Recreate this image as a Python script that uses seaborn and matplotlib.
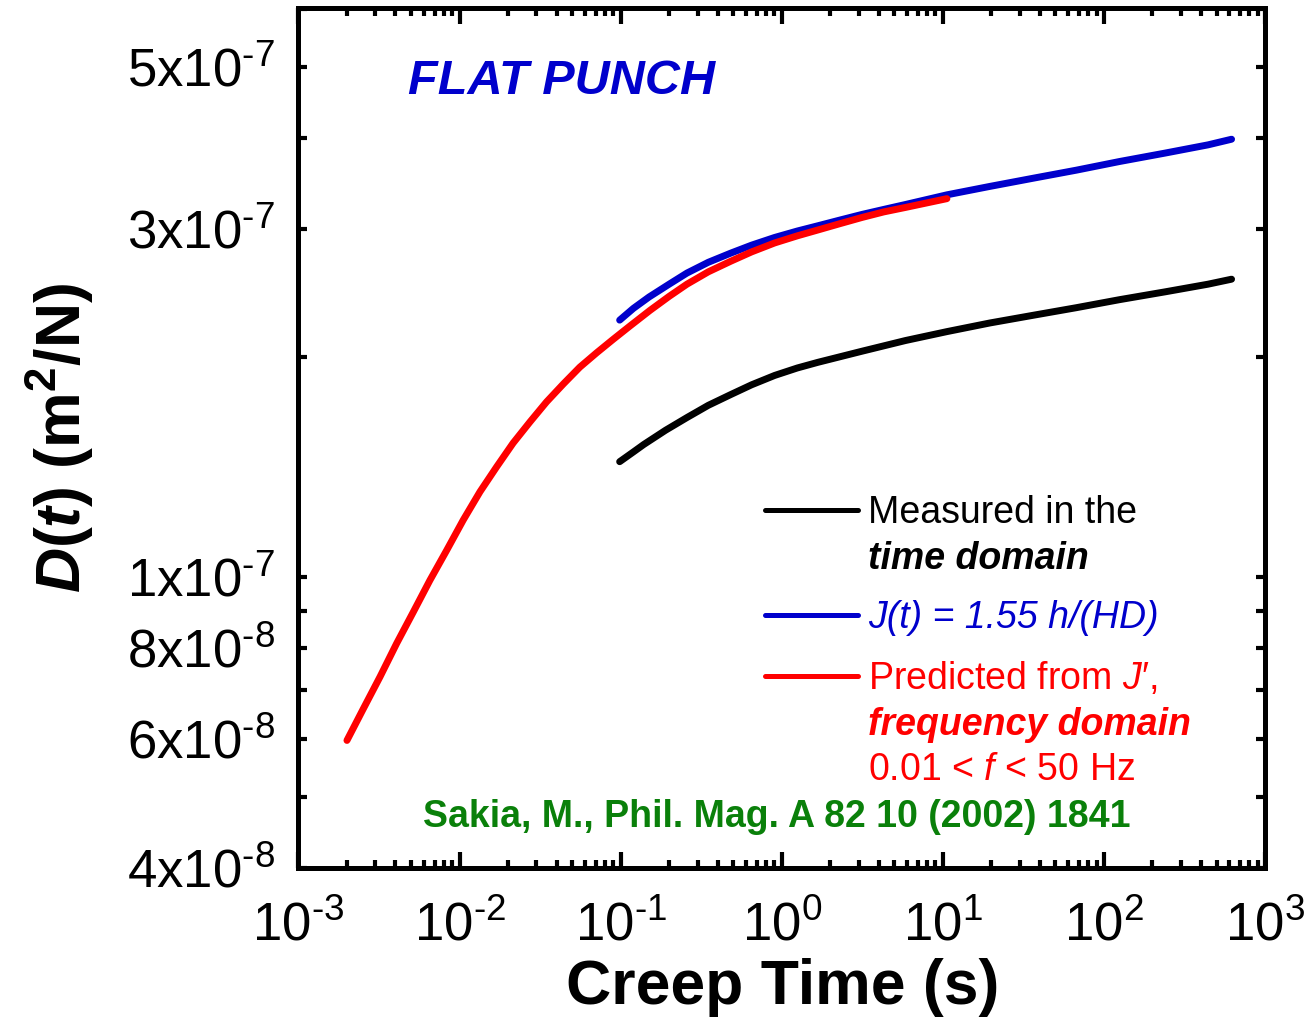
import numpy as np
import pandas as pd
import seaborn as sns
import matplotlib.pyplot as plt
from matplotlib import ticker

# data (creep time in s, D(t) in m^2/N)
t_pred = [0.002, 0.00252, 0.00321, 0.00407, 0.00517, 0.00655, 0.00832, 0.01054, 0.0134,
          0.017, 0.0215, 0.0274, 0.0347, 0.0441, 0.0558, 0.071, 0.0899, 0.114, 0.152,
          0.2, 0.258, 0.35, 0.484, 0.65, 0.904, 1.25, 1.68, 2.3, 3.15, 4.3, 5.87, 10.6]
d_pred = [5.98e-8, 6.60e-8, 7.31e-8, 8.12e-8, 8.97e-8, 9.91e-8, 1.089e-7, 1.198e-7, 1.31e-7,
          1.417e-7, 1.527e-7, 1.633e-7, 1.739e-7, 1.84e-7, 1.94e-7, 2.03e-7, 2.118e-7,
          2.208e-7, 2.32e-7, 2.425e-7, 2.52e-7, 2.62e-7, 2.71e-7, 2.79e-7, 2.87e-7, 2.935e-7,
          2.99e-7, 3.05e-7, 3.11e-7, 3.165e-7, 3.21e-7, 3.30e-7]

t_blue = [0.0986, 0.12, 0.15, 0.2, 0.258, 0.35, 0.484, 0.65, 0.904, 1.25, 1.68, 2.3, 3.15,
          4.3, 5.87, 10.6, 19.6, 36.5, 67.4, 125, 240, 443, 620]
d_blue = [2.25e-7, 2.335e-7, 2.42e-7, 2.52e-7, 2.61e-7, 2.70e-7, 2.78e-7, 2.85e-7, 2.92e-7,
          2.98e-7, 3.03e-7, 3.085e-7, 3.14e-7, 3.19e-7, 3.24e-7, 3.34e-7, 3.43e-7, 3.52e-7,
          3.61e-7, 3.71e-7, 3.81e-7, 3.91e-7, 3.98e-7]

t_meas = [0.0986, 0.12, 0.139, 0.19, 0.258, 0.35, 0.484, 0.65, 0.904, 1.25, 1.68, 3.15, 5.87,
          10.6, 19.6, 36.5, 67.4, 125, 240, 443, 620]
d_meas = [1.44e-7, 1.485e-7, 1.52e-7, 1.59e-7, 1.655e-7, 1.72e-7, 1.78e-7, 1.835e-7, 1.89e-7,
          1.935e-7, 1.97e-7, 2.04e-7, 2.11e-7, 2.17e-7, 2.23e-7, 2.285e-7, 2.34e-7, 2.40e-7,
          2.46e-7, 2.52e-7, 2.56e-7]

y_ticks = [4e-8, 5e-8, 6e-8, 7e-8, 8e-8, 9e-8, 1e-7, 2e-7, 3e-7, 4e-7, 5e-7, 6e-7]
y_labels = {4e-8: "4x10^{\\text{-}8}", 6e-8: "6x10^{\\text{-}8}", 8e-8: "8x10^{\\text{-}8}",
            1e-7: "1x10^{\\text{-}7}", 3e-7: "3x10^{\\text{-}7}", 5e-7: "5x10^{\\text{-}7}"}

sns.set_style("ticks")
plt.rcParams['font.family'] = ['Liberation Sans', 'DejaVu Sans']
for k in ['text.color', 'axes.labelcolor', 'xtick.color', 'ytick.color', 'axes.edgecolor']:
    plt.rcParams[k] = 'black'
plt.rcParams['mathtext.fontset'] = 'custom'
plt.rcParams['mathtext.rm'] = 'Liberation Sans'
plt.rcParams['mathtext.it'] = 'Liberation Sans:italic'
plt.rcParams['mathtext.bf'] = 'Liberation Sans:bold'
try:
    plt.rcParams['mathtext.bfit'] = 'Liberation Sans:italic:bold'
except KeyError:
    pass

fig = plt.figure(figsize=(13.09, 10.22), dpi=100)
ax = fig.add_axes([0.228, 0.1507, 0.7384, 0.8415])
ax.set_xscale('log')
ax.set_yscale('log')

black = pd.DataFrame({'t': t_meas, 'D': d_meas})
blue = pd.DataFrame({'t': t_blue, 'D': d_blue})
red = pd.DataFrame({'t': t_pred, 'D': d_pred})

sns.lineplot(data=black, x='t', y='D', color='black', lw=5, ax=ax)
sns.lineplot(data=blue, x='t', y='D', color='#0000CC', lw=5, ax=ax)
sns.lineplot(data=red, x='t', y='D', color='#FF0000', lw=5, ax=ax)
lines = ax.get_lines()
for ln in lines:
    ln.set_solid_joinstyle('round')

ax.set_xlim(1e-3, 1e3)
ax.set_ylim(4e-8, 6.02e-7)

# axes frame and ticks
for s in ax.spines.values():
    s.set_linewidth(3.6)
    s.set_color('black')
ax.xaxis.set_major_locator(ticker.LogLocator(base=10, numticks=20))
ax.xaxis.set_minor_locator(ticker.LogLocator(base=10, subs=np.arange(2, 10), numticks=20))
ax.xaxis.set_minor_formatter(ticker.NullFormatter())
ax.xaxis.set_major_formatter(ticker.FuncFormatter(
    lambda v, p: r"$\mathregular{10^{%s}}$" % (("\\text{-}%d" % -round(np.log10(v))) if v < 1 else "%d" % round(np.log10(v)))))
ax.yaxis.set_major_locator(ticker.FixedLocator(y_ticks))
ax.yaxis.set_minor_locator(ticker.NullLocator())
ax.yaxis.set_major_formatter(ticker.FuncFormatter(
    lambda v, p: next((r"$\mathregular{%s}$" % lab for k, lab in y_labels.items() if abs(k - v) / k < 1e-3), "")))

ax.tick_params(axis='x', which='major', direction='in', length=11.5, width=3, top=True, bottom=True,
               labelsize=38, pad=24)
ax.tick_params(axis='x', which='minor', direction='in', length=6, width=3, top=True, bottom=True)
ax.tick_params(axis='y', which='major', direction='in', length=6.5, width=3, left=True, right=True,
               labelsize=38, pad=17)

ax.set_xlabel("Creep Time (s)", fontsize=45, fontweight='bold')
ax.set_ylabel(r"$\mathbfit{D}\mathbf{(}\mathbfit{t}\mathbf{)\ (m^{2}/N)}$", fontsize=45)
ax.xaxis.set_label_coords(0.501, -0.1395)
ax.xaxis.label.set_va('center')
ax.yaxis.set_label_coords(-0.2468, 0.5)
ax.yaxis.label.set_va('center')

ax.text(0.1133, 0.914, "FLAT PUNCH", transform=ax.transAxes, fontsize=35, fontweight='bold',
        fontstyle='italic', color='#0000CC', ha='left', va='center')
ax.text(0.495, 0.0593, "Sakia, M., Phil. Mag. A 82 10 (2002) 1841", transform=ax.transAxes,
        fontsize=27, fontweight='bold', color='#0A800A', ha='center', va='center')

# legend blocks
invisible = plt.Line2D([], [], color='none')
leg_kw = dict(frameon=False, fontsize=27, handlelength=2.48, handletextpad=0.27,
              borderpad=0, borderaxespad=0, labelspacing=0.25, loc='center left')

legA = ax.legend([lines[0], invisible], ["Measured in the", "time domain"],
                 bbox_to_anchor=(0.4827, 0.386), **leg_kw)
legA.get_texts()[1].set_fontweight('bold')
legA.get_texts()[1].set_fontstyle('italic')
ax.add_artist(legA)

legB = ax.legend([lines[1]], ["J(t) = 1.55 h/(HD)"], bbox_to_anchor=(0.4827, 0.2907), **leg_kw)
legB.get_texts()[0].set_color('#0000CC')
legB.get_texts()[0].set_fontstyle('italic')
ax.add_artist(legB)

legC = ax.legend([lines[2], invisible, invisible],
                 ["Predicted from $J$\u2032,", "frequency domain", "0.01 < $f$ < 50 Hz"],
                 bbox_to_anchor=(0.4827, 0.1674), **leg_kw)
for tx in legC.get_texts():
    tx.set_color('#FF0000')
legC.get_texts()[1].set_fontweight('bold')
legC.get_texts()[1].set_fontstyle('italic')

for lg in (legA, legB, legC):
    for ln in lg.get_lines():
        ln.set_linewidth(3.6)

fig.savefig("out.png", dpi=100)
